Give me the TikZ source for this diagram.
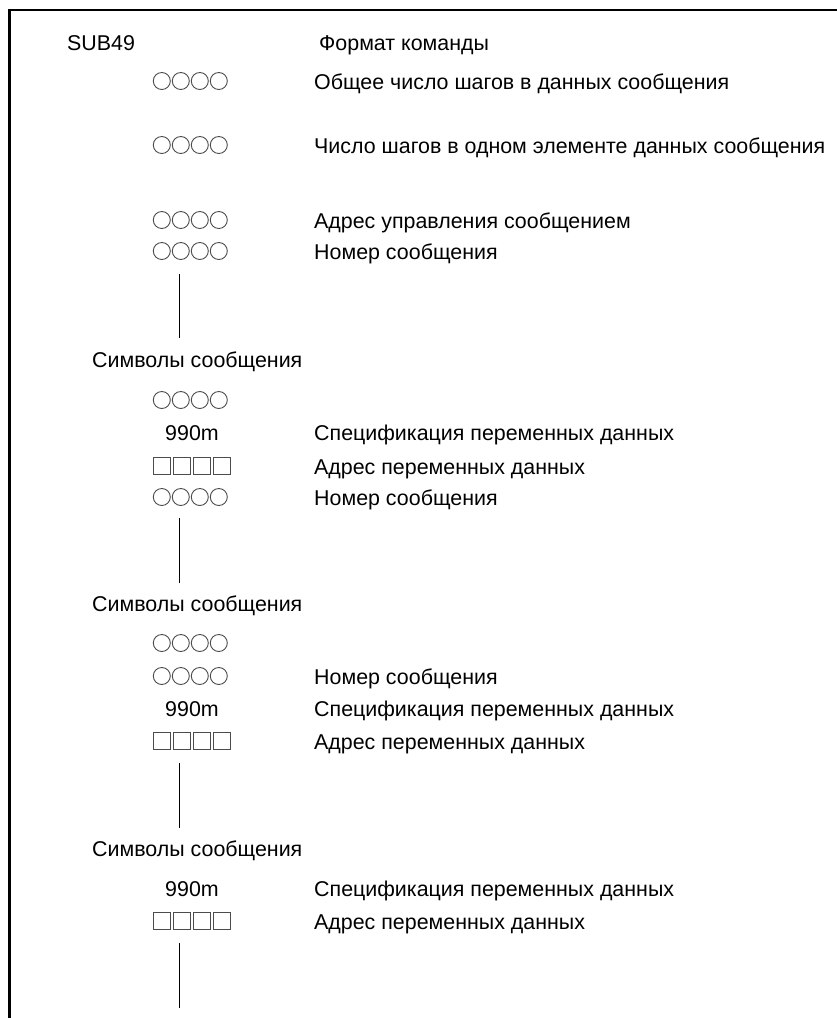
\documentclass[tikz,border=0pt]{standalone}
\usepackage{fontspec}
\setmainfont{Liberation Sans}
\begin{document}
\begin{tikzpicture}[x=1pt,y=-1pt,
  txt/.style={inner sep=0pt,anchor=base west,font=\fontsize{21.4}{25}\selectfont,text=black},
  ctxt/.style={inner sep=0pt,anchor=base,font=\fontsize{21.4}{25}\selectfont,text=black},
  symrow/.style={inner sep=0pt,minimum width=77pt,minimum height=17pt},
  sym/.style={draw=black!70,line width=0.9pt},
  conn/.style={draw=black,line width=1pt},
  frame/.style={draw=black,line width=2.6pt}]
\useasboundingbox (0,0) rectangle (836,1018);
\newcommand\crow[2]{\node[symrow] (#1) at (192,#2) {};
  \foreach \k in {0,...,3} \draw[sym] (#1.west) ++(8.5+19*\k,0) circle[radius=8.5];}
\newcommand\srow[2]{\node[symrow] (#1) at (192,#2) {};
  \foreach \k in {0,...,3} \draw[sym] (#1.west) ++(20*\k,-8.5) rectangle ++(17,17);}
% frame
\coordinate (fbl) at (9.5,1020);
\coordinate (ftl) at (9.5,10);
\coordinate (ftr) at (838,10);
\draw[frame] (fbl) -- (ftl) -- (ftr);
% header
\node[txt] (sub) at (67,50) {SUB49};
\node[txt] (fmt) at (319,50) {Формат команды};
% block 0
\crow{c1}{81}   \node[txt] (t1) at (314,89) {Общее число шагов в данных сообщения};
\crow{c2}{145}  \node[txt] (t2) at (314,153) {Число шагов в одном элементе данных сообщения};
\crow{c3}{220}  \node[txt] (t3) at (314,228) {Адрес управления сообщением};
\crow{c4}{251}  \node[txt] (t4) at (314,259) {Номер сообщения};
\coordinate (l1t) at (179,274); \coordinate (l1b) at (179,338);
\draw[conn] (l1t) -- (l1b);
\node[txt] (s1) at (92,367) {Символы сообщения};
% block 1
\crow{c5}{400}
\node[ctxt] (m1) at (192,440) {990m}; \node[txt] (t5) at (314,440) {Спецификация переменных данных};
\srow{q1}{466}  \node[txt] (t6) at (314,474) {Адрес переменных данных};
\crow{c6}{497}  \node[txt] (t7) at (314,505) {Номер сообщения};
\coordinate (l2t) at (179,518); \coordinate (l2b) at (179,583);
\draw[conn] (l2t) -- (l2b);
\node[txt] (s2) at (92,611) {Символы сообщения};
% block 2
\crow{c7}{643}
\crow{c8}{676}  \node[txt] (t8) at (314,684) {Номер сообщения};
\node[ctxt] (m2) at (192,716) {990m}; \node[txt] (t9) at (314,716) {Спецификация переменных данных};
\srow{q2}{741}  \node[txt] (t10) at (314,749) {Адрес переменных данных};
\coordinate (l3t) at (179,763); \coordinate (l3b) at (179,828);
\draw[conn] (l3t) -- (l3b);
\node[txt] (s3) at (92,856) {Символы сообщения};
% block 3
\node[ctxt] (m3) at (192,896) {990m}; \node[txt] (t11) at (314,896) {Спецификация переменных данных};
\srow{q3}{921}  \node[txt] (t12) at (314,929) {Адрес переменных данных};
\coordinate (l4t) at (179,943); \coordinate (l4b) at (179,1008);
\draw[conn] (l4t) -- (l4b);
\end{tikzpicture}
\end{document}
